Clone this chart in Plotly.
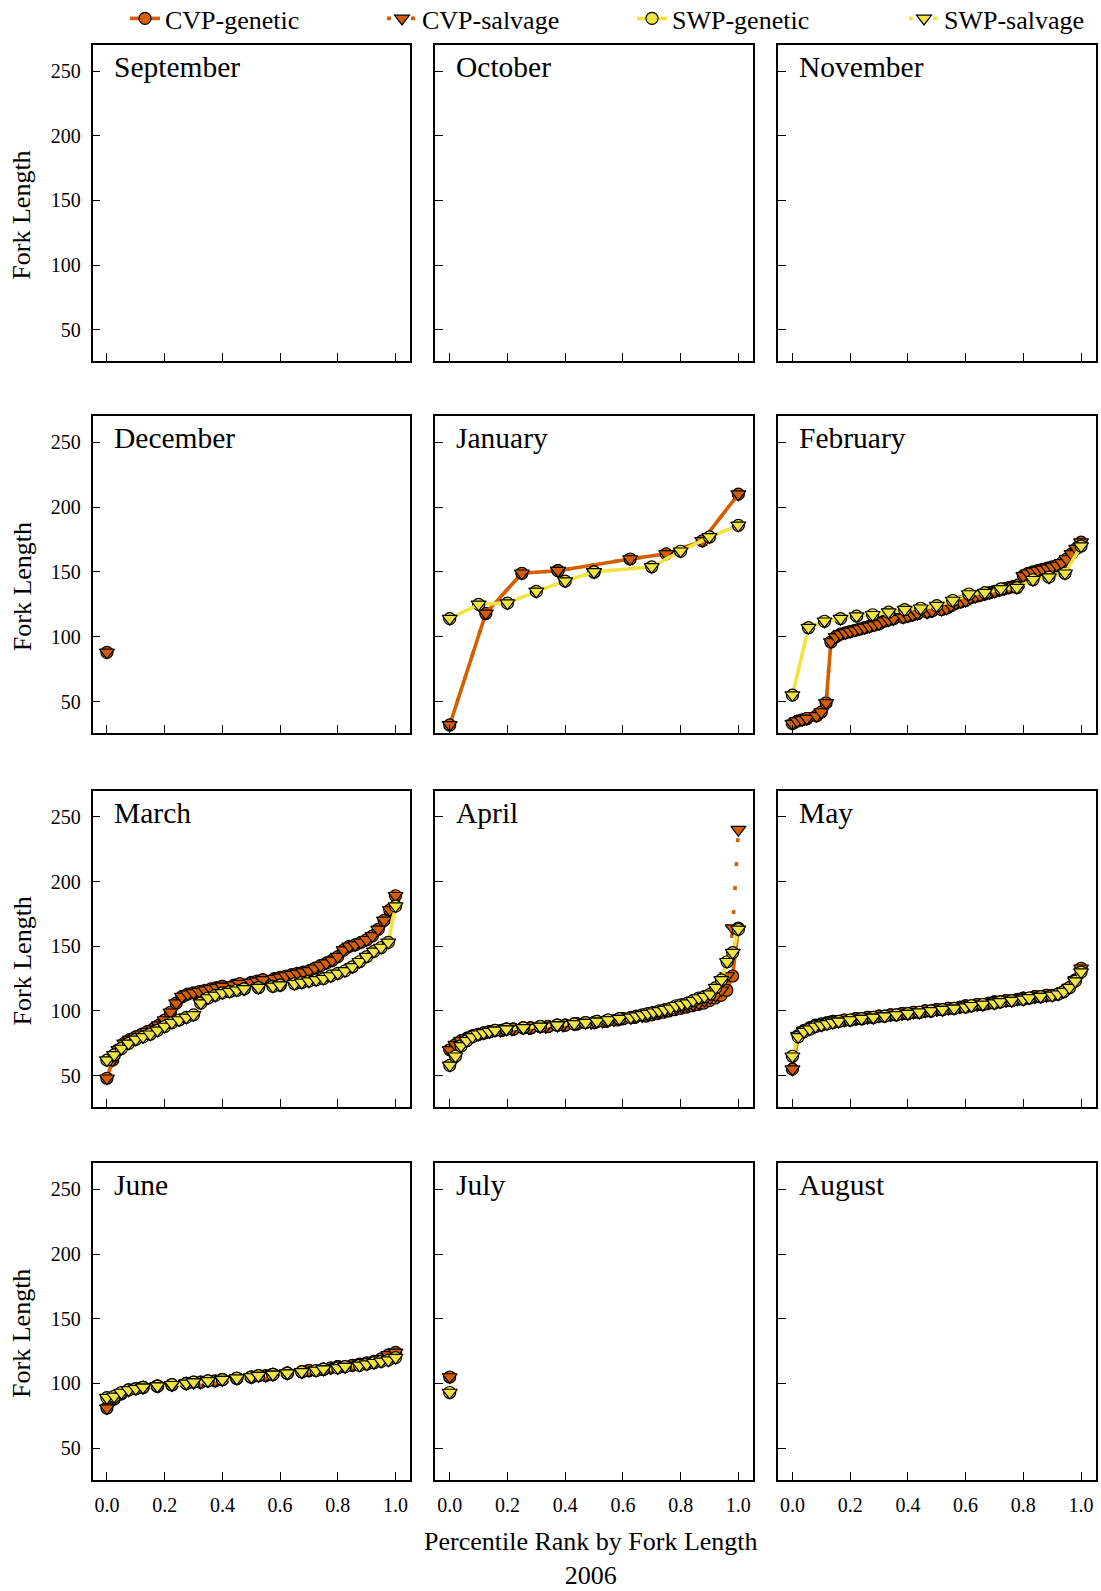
import pandas as pd
import plotly.graph_objects as go

# ---------------- data (fork lengths, sorted) ----------------
months = ["September", "October", "November",
          "December", "January", "February",
          "March", "April", "May",
          "June", "July", "August"]

series_names = ["CVP-genetic", "CVP-salvage", "SWP-genetic", "SWP-salvage"]

cvp_dec = [88]
cvp_jan = [32, 118, 149, 151, 151, 160, 164, 174, 210]
swp_jan = [114, 125, 126, 135, 143, 150, 150, 154, 166, 177, 186]

cvp_feb = [33, 35, 36, 37, 37, 39, 42, 49, 96, 100, 102, 103, 104, 105, 106, 107,
           108, 109, 110, 112, 113, 114, 114, 115, 116, 117, 118, 118, 119, 120,
           120, 121, 122, 124, 126, 127, 128, 130, 131, 132, 133, 134, 135, 136,
           137, 138, 139, 140, 147, 149, 150, 151, 152, 153, 154, 155, 157, 160,
           164, 168, 173]
swp_feb = [55, 107, 112, 114, 116, 117, 119, 121, 122, 124, 128, 133, 134, 137,
           138, 144, 146, 149, 170]

cvp_mar = [48, 62, 70, 75, 78, 80, 82, 84, 86, 89, 93, 99, 106, 111, 113, 114,
           115, 116, 117, 118, 119, 119, 120, 121, 121, 122, 123, 124, 124, 125,
           126, 127, 128, 129, 130, 131, 133, 135, 137, 139, 142, 147, 150, 151,
           153, 155, 158, 163, 170, 178, 189]
swp_mar = [62, 66, 71, 75, 78, 80, 82, 85, 88, 91, 93, 95, 97, 106, 110, 112,
           114, 115, 116, 117, 117, 118, 118, 119, 120, 120, 121, 122, 123, 124,
           125, 127, 129, 131, 134, 138, 142, 146, 149, 153, 181]

cvp_apr = [70, 74, 77, 79, 81, 82, 83, 84, 84, 85, 85, 86, 86, 86, 87, 87, 87,
           88, 88, 88, 89, 89, 90, 90, 90, 91, 91, 92, 92, 93, 94, 94, 95, 95,
           96, 97, 98, 99, 100, 101, 102, 103, 104, 105, 106, 108, 110, 112, 116,
           127, 164]
cvp_apr_salvage_extra = [240]
swp_apr = [58, 65, 73, 77, 80, 82, 83, 84, 85, 85, 86, 86, 86, 87, 87, 87, 88,
           88, 88, 89, 89, 89, 90, 90, 91, 91, 92, 92, 93, 93, 94, 94, 95, 96,
           97, 98, 99, 100, 101, 102, 104, 105, 106, 108, 110, 111, 113, 118,
           124, 138, 145, 163]

cvp_may = [55, 81, 85, 87, 89, 90, 91, 92, 92, 93, 93, 94, 94, 95, 95, 96, 96,
           97, 97, 98, 98, 99, 99, 100, 100, 101, 101, 102, 102, 103, 104, 104,
           105, 105, 106, 107, 107, 108, 108, 109, 110, 110, 111, 111, 112, 112,
           113, 115, 118, 124, 133]
swp_may = [65, 80, 84, 86, 88, 89, 90, 91, 92, 92, 93, 93, 94, 94, 95, 95, 96,
           96, 97, 97, 98, 98, 99, 99, 100, 100, 101, 101, 102, 102, 103, 104,
           104, 105, 105, 106, 107, 107, 108, 108, 109, 110, 110, 111, 111, 112,
           113, 115, 118, 123, 130]

cvp_jun = [81, 88, 92, 95, 96, 97, 97, 98, 98, 99, 99, 100, 100, 101, 101, 102,
           103, 103, 104, 104, 105, 105, 106, 107, 107, 108, 108, 109, 110, 110,
           111, 112, 113, 113, 114, 115, 116, 117, 119, 122, 124]
swp_jun = [89, 90, 93, 95, 96, 97, 97, 98, 98, 99, 99, 100, 101, 101, 102, 102,
           103, 103, 104, 104, 105, 106, 106, 107, 107, 108, 108, 109, 109, 110,
           111, 111, 112, 113, 113, 114, 115, 116, 117, 118, 120]

cvp_jul = [105]
swp_jul = [93]

# month -> (CVP-genetic, CVP-salvage, SWP-genetic, SWP-salvage)
data = {
    "September": ([], [], [], []),
    "October": ([], [], [], []),
    "November": ([], [], [], []),
    "December": (cvp_dec, cvp_dec, [], []),
    "January": (cvp_jan, cvp_jan, swp_jan, swp_jan),
    "February": (cvp_feb, cvp_feb, swp_feb, swp_feb),
    "March": (cvp_mar, cvp_mar, swp_mar, swp_mar),
    "April": (cvp_apr, cvp_apr + cvp_apr_salvage_extra, swp_apr, swp_apr),
    "May": (cvp_may, cvp_may, swp_may, swp_may),
    "June": (cvp_jun, cvp_jun, swp_jun, swp_jun),
    "July": (cvp_jul, cvp_jul, swp_jul, swp_jul),
    "August": ([], [], [], []),
}

y_ticks = [50, 100, 150, 200, 250]
x_ticks = [0.0, 0.2, 0.4, 0.6, 0.8, 1.0]
x_tick_text = ["0.0", "0.2", "0.4", "0.6", "0.8", "1.0"]


def pct_rank(vals):
    n = len(vals)
    if n == 0:
        return []
    if n == 1:
        return [0.0]
    r = pd.Series(vals).rank(method="min")
    return list((r - 1) / (n - 1))


# ---------------- styling ----------------
ORANGE = "#D55E00"
YELLOW = "#F0E442"
FONT = "Liberation Serif"
W, H = 1101, 1591

styles = [
    dict(color=ORANGE, dash="solid", symbol="circle", size=12),
    dict(color=ORANGE, dash="4px,20px", symbol="triangle-down", size=13),
    dict(color=YELLOW, dash="solid", symbol="circle", size=12),
    dict(color=YELLOW, dash="4px,20px", symbol="triangle-down", size=13),
]
legend_ids = ["legend", "legend2", "legend3", "legend4"]
legend_text_px = [165, 422, 672, 944]

col_px = [(92.5, 410), (435.3, 752.8), (778, 1095.5)]
row_px = [(45, 361), (416, 733), (790.5, 1107), (1163, 1479.5)]

fig = go.Figure()
layout = dict(
    width=W, height=H,
    margin=dict(l=0, r=0, t=0, b=0, autoexpand=False),
    paper_bgcolor="white", plot_bgcolor="white",
    font=dict(family=FONT, color="black", size=20),
    showlegend=True,
)
annotations = []
LEGEND_MONTH = "January"

for idx, month in enumerate(months):
    r, c = divmod(idx, 3)
    k = idx + 1
    xa = "xaxis" if k == 1 else f"xaxis{k}"
    ya = "yaxis" if k == 1 else f"yaxis{k}"
    xr = "x" if k == 1 else f"x{k}"
    yr = "y" if k == 1 else f"y{k}"
    x0, x1 = col_px[c]
    top, bot = row_px[r]
    layout[xa] = dict(
        domain=[x0 / W, x1 / W], anchor=yr, range=[-0.05, 1.05],
        tickvals=x_ticks, ticktext=x_tick_text, showticklabels=(r == 3),
        ticks="inside", ticklen=8, tickwidth=1.3, tickcolor="black",
        showline=True, linecolor="black", linewidth=1.6, mirror=True,
        showgrid=False, zeroline=False, ticklabelstandoff=7,
        tickfont=dict(family=FONT, size=20),
    )
    layout[ya] = dict(
        domain=[1 - bot / H, 1 - top / H], anchor=xr, range=[25.8, 270.3],
        tickvals=y_ticks, showticklabels=(c == 0),
        ticks="inside", ticklen=8, tickwidth=1.3, tickcolor="black",
        showline=True, linecolor="black", linewidth=1.6, mirror=True,
        showgrid=False, zeroline=False, ticklabelstandoff=6,
        tickfont=dict(family=FONT, size=20),
    )
    annotations.append(dict(
        text=month, xref=f"{xr} domain", yref=f"{yr} domain",
        x=0.06, y=0.93, xanchor="left", yanchor="middle", showarrow=False,
        font=dict(family=FONT, size=29.5, color="black"),
    ))
    if c == 0:
        annotations.append(dict(
            text="Fork Length", xref="paper", yref=f"{yr} domain",
            x=22 / W, y=0.46, xanchor="center", yanchor="middle",
            textangle=-90, showarrow=False,
            font=dict(family=FONT, size=26, color="black"),
        ))
    for s_i, name in enumerate(series_names):
        vals = data[month][s_i]
        st = styles[s_i]
        fig.add_trace(go.Scatter(
            x=pct_rank(vals), y=vals, xaxis=xr, yaxis=yr,
            mode="lines+markers", name=name, legendgroup=name,
            legend=legend_ids[s_i],
            showlegend=(month == LEGEND_MONTH),
            line=dict(color=st["color"], width=3.6, dash=st["dash"]),
            marker=dict(symbol=st["symbol"], size=st["size"], color=st["color"],
                        line=dict(color="black", width=1.2)),
        ))

annotations.append(dict(
    text="Percentile Rank by Fork Length<br>2006", xref="paper", yref="paper",
    x=591 / W, y=1 - 1558 / H, xanchor="center", yanchor="middle",
    showarrow=False, font=dict(family=FONT, size=26, color="black"),
))

layout["annotations"] = annotations
for lid, tx in zip(legend_ids, legend_text_px):
    layout[lid] = dict(
        orientation="h", x=(tx - 40) / W, y=1 + 5 / H,
        xanchor="left", yanchor="top",
        font=dict(family=FONT, size=26, color="black"),
        bgcolor="rgba(0,0,0,0)", itemsizing="trace",
    )
fig.update_layout(**layout)
fig.write_html("out.html", config={"displayModeBar": False})

# remove the default page margin so the figure sits at the window's corner
with open("out.html", "r", encoding="utf-8") as f:
    html = f.read()
html = html.replace("<body>", '<body style="margin:0;padding:0;">', 1)
with open("out.html", "w", encoding="utf-8") as f:
    f.write(html)
